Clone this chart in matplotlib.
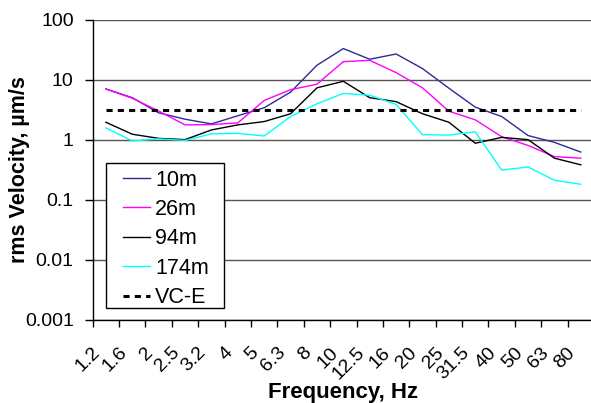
import matplotlib
matplotlib.use('Agg')
import matplotlib.pyplot as plt
from matplotlib.patches import Rectangle
from matplotlib.transforms import ScaledTranslation
import numpy as np

plt.rcParams['font.family'] = ['Liberation Sans', 'DejaVu Sans']

freqs = ['1.2', '1.6', '2', '2.5', '3.2', '4', '5', '6.3', '8', '10', '12.5',
         '16', '20', '25', '31.5', '40', '50', '63', '80']

v_10m = [7.0, 5.0, 2.8, 2.19, 1.83, 2.5, 3.4, 6.2, 17.4, 33, 21.9,
         26.8, 15.3, 7.2, 3.48, 2.43, 1.17, 0.90, 0.62]
v_26m = [7.0, 4.9, 3.0, 1.76, 1.78, 1.9, 4.5, 6.8, 8.4, 20, 21,
         13.1, 7.3, 2.98, 2.14, 1.12, 0.80, 0.52, 0.49]
v_94m = [1.95, 1.23, 1.05, 1.0, 1.45, 1.76, 2.0, 2.7, 7.3, 9.4, 5.0,
         4.3, 2.7, 1.95, 0.87, 1.09, 1.0, 0.49, 0.38]
v_174m = [1.57, 0.95, 1.03, 0.97, 1.25, 1.27, 1.15, 2.43, 3.96, 5.9, 5.5,
          3.86, 1.21, 1.19, 1.35, 0.31, 0.35, 0.21, 0.18]
vc_e = [3.125] * len(freqs)

x = np.arange(len(freqs))

fig = plt.figure(figsize=(5.91, 4.03), dpi=100)
ax = fig.add_axes([92.7 / 591, 83.5 / 403, 501.3 / 591, 299.8 / 403])

ax.plot(x, v_10m, color='#2b2b94', lw=1.0, label='10m')
ax.plot(x, v_26m, color='#ff00ff', lw=1.0, label='26m')
ax.plot(x, v_94m, color='#000000', lw=1.0, label='94m')
ax.plot(x, v_174m, color='#00ffff', lw=1.0, label='174m')
ax.plot(x, vc_e, color='black', lw=2.2, dashes=(2, 1.7), label='VC-E')

ax.set_yscale('log')
ax.set_ylim(0.001, 100)
ax.set_xlim(-0.5, len(freqs) - 0.5)
ax.set_yticks([0.001, 0.01, 0.1, 1, 10, 100])
ax.set_yticklabels(['0.001', '0.01', '0.1', '1', '10', '100'])
ax.yaxis.set_minor_locator(matplotlib.ticker.NullLocator())
ax.grid(True, axis='y', color='#555555', lw=1.0)
ax.set_axisbelow(True)

# ticks between categories, labels at category centres
ax.set_xticks(np.arange(len(freqs) + 1) - 0.5)
ax.set_xticklabels([])
ax.set_xticks(x, minor=True)
ax.set_xticklabels(freqs, minor=True, rotation=45, ha='right', va='center',
                   rotation_mode='anchor', fontsize=14)
ax.tick_params(axis='x', which='minor', length=0, pad=22)
ax.tick_params(axis='x', which='major', length=5, width=1, direction='out')
ax.tick_params(axis='y', length=6, width=1, direction='out', labelsize=14, pad=7.7)
# nudge rotated labels left (after tick_params, which resets transforms)
shift = ScaledTranslation(-8 / 100, 0, fig.dpi_scale_trans)
for lbl in ax.get_xticklabels(minor=True):
    lbl.set_transform(lbl.get_transform() + shift)

for s in ['top', 'right']:
    ax.spines[s].set_visible(False)
ax.spines['left'].set_linewidth(1.0)
ax.spines['bottom'].set_linewidth(1.0)

ax.set_xlabel('Frequency, Hz', fontsize=16, fontweight='bold')
ax.xaxis.set_label_coords(0.5, -0.21)
ax.set_ylabel('rms Velocity, µm/s', fontsize=15.5, fontweight='bold')
ax.yaxis.set_label_coords(-0.125, 0.5)

# legend box drawn separately (Excel style wide margins)
ax.add_patch(Rectangle((0.0265, 0.0384), 0.2354, 0.4837, transform=ax.transAxes,
                       facecolor='white', edgecolor='black', lw=1.0, zorder=5))
leg = ax.legend(loc='upper left', bbox_to_anchor=(0.0604, 0.50),
                borderaxespad=0, borderpad=0, fontsize=15.5, frameon=False,
                handlelength=1.26, handletextpad=0.23, labelspacing=0.39)
leg.set_zorder(6)

fig.savefig('out.png', dpi=100)
